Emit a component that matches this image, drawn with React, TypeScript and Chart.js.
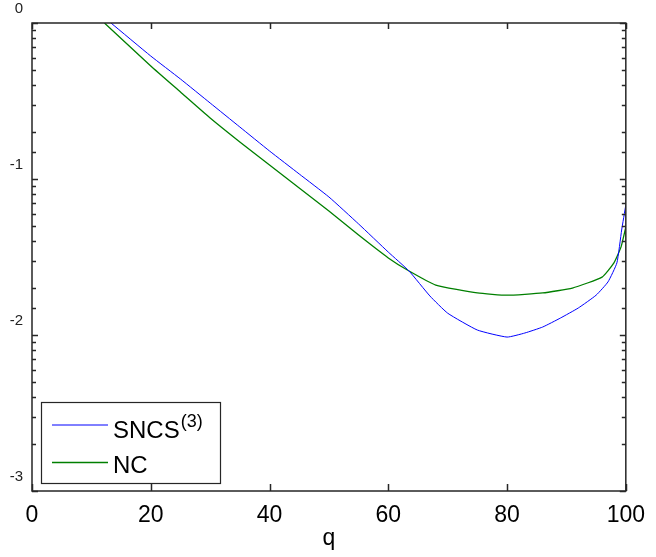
import React, { useEffect, useRef } from 'react';
import { Chart, registerables } from 'chart.js';

Chart.register(...registerables);

const sncsQ = [13.3, 20, 25, 30, 35, 40, 45, 50, 55, 60, 63.5, 67, 70, 75, 80, 83, 86, 89, 92, 95, 97, 98.5, 99.3, 100];
const sncsVal = [1.0, 0.614, 0.4375, 0.307, 0.2154, 0.1512, 0.1077, 0.0767, 0.0515, 0.034, 0.0257, 0.0178, 0.0138, 0.01076, 0.0097, 0.0103, 0.01125, 0.01285, 0.0149, 0.018, 0.0219, 0.029, 0.0471, 0.0681];
const ncQ = [12.2, 20, 25, 30, 35, 40, 45, 50, 55, 60, 63.5, 68, 75, 80, 86, 91, 96, 98, 99.2, 100];
const ncVal = [1.0, 0.53, 0.361, 0.246, 0.1727, 0.1229, 0.0876, 0.0623, 0.0437, 0.0312, 0.0257, 0.0209, 0.0186, 0.018, 0.0186, 0.02, 0.0235, 0.029, 0.0367, 0.0492];
const seriesNames = ['SNCS', 'NC'];
const seriesSup = ['(3)', ''];
const seriesColors = ['#0000ff', '#007f00'];
const xLabel = 'q';

const FONT = "'Liberation Sans', Arial, Helvetica, sans-serif";

const isDecade = (v: number) => {
  const l = Math.log10(v);
  return Math.abs(l - Math.round(l)) < 1e-6;
};

const framePlugin = {
  id: 'frameTicksLegend',
  afterDatasetsDraw(chart: any) {
    const { ctx, chartArea } = chart;
    const { left, right, top, bottom } = chartArea;
    const xs = chart.scales.x;
    const ys = chart.scales.y;
    ctx.save();
    ctx.strokeStyle = '#262626';
    ctx.lineWidth = 1.5;
    ctx.strokeRect(left, top, right - left, bottom - top);
    ctx.beginPath();
    xs.ticks.forEach((t: any) => {
      const px = Math.round(xs.getPixelForValue(t.value)) + 0.5;
      ctx.moveTo(px, bottom);
      ctx.lineTo(px, bottom - 7);
      ctx.moveTo(px, top);
      ctx.lineTo(px, top + 6);
    });
    ys.ticks.forEach((t: any) => {
      const py = Math.round(ys.getPixelForValue(t.value)) + 0.5;
      const len = isDecade(t.value) ? 6 : 4;
      ctx.moveTo(left, py);
      ctx.lineTo(left + len, py);
      ctx.moveTo(right, py);
      ctx.lineTo(right - len, py);
    });
    ctx.stroke();

    const lx = 41, ly = 402, lw = 179, lh = 81;
    ctx.fillStyle = '#ffffff';
    ctx.fillRect(lx, ly, lw, lh);
    ctx.strokeStyle = '#262626';
    ctx.lineWidth = 1.2;
    ctx.strokeRect(lx + 0.5, ly + 0.5, lw, lh);
    const rows = [425, 462.5];
    const widths = [1, 1.3];
    const baselines = [438, 473];
    seriesNames.forEach((name, i) => {
      ctx.strokeStyle = seriesColors[i];
      ctx.lineWidth = widths[i];
      ctx.beginPath();
      ctx.moveTo(52, rows[i]);
      ctx.lineTo(108, rows[i]);
      ctx.stroke();
      ctx.fillStyle = '#000';
      ctx.textBaseline = 'alphabetic';
      ctx.textAlign = 'left';
      ctx.font = `24px ${FONT}`;
      ctx.fillText(name, 113, baselines[i]);
      if (seriesSup[i]) {
        const w = ctx.measureText(name).width;
        ctx.font = `18px ${FONT}`;
        ctx.fillText(seriesSup[i], 113 + w + 1, baselines[i] - 11);
      }
    });
    ctx.restore();
  },
};

export default function App() {
  const ref = useRef<HTMLCanvasElement | null>(null);
  useEffect(() => {
    document.body.style.margin = '0';
    if (!ref.current) return;
    const chart = new Chart(ref.current, {
      type: 'line',
      data: {
        datasets: [
          {
            label: seriesNames[0],
            data: sncsQ.map((q, i) => ({ x: q, y: sncsVal[i] })),
            borderColor: seriesColors[0],
            borderWidth: 1,
            pointRadius: 0,
            tension: 0.15,
            fill: false,
          },
          {
            label: seriesNames[1],
            data: ncQ.map((q, i) => ({ x: q, y: ncVal[i] })),
            borderColor: seriesColors[1],
            borderWidth: 1.3,
            pointRadius: 0,
            tension: 0.15,
            fill: false,
          },
        ],
      },
      options: {
        responsive: false,
        animation: false,
        layout: { padding: { top: 23, right: 24, left: 0, bottom: 0 } },
        plugins: {
          legend: { display: false },
          tooltip: { enabled: false },
        },
        scales: {
          x: {
            type: 'linear',
            min: 0,
            max: 100,
            grid: { display: false, drawTicks: false },
            border: { display: false },
            ticks: {
              stepSize: 20,
              padding: 11,
              color: '#000',
              font: { family: FONT, size: 23 },
              maxRotation: 0,
            },
            title: {
              display: true,
              text: xLabel,
              color: '#000',
              font: { family: FONT, size: 23 },
              padding: { top: 0, bottom: 5 },
            },
            afterFit: (s: any) => { s.height = 66; },
          },
          y: {
            type: 'logarithmic',
            min: 0.001,
            max: 1,
            grid: { display: false, drawTicks: false },
            border: { display: false },
            ticks: {
              autoSkip: false,
              padding: 9,
              labelOffset: -14,
              color: '#222',
              font: { family: FONT, size: 15 },
              callback: (v: any) => {
                const n = Number(v);
                if (!isDecade(n)) return '';
                return String(Math.round(Math.log10(n)));
              },
            },
            afterFit: (s: any) => { s.width = 32; },
          },
        },
      },
      plugins: [framePlugin],
    } as any);
    return () => chart.destroy();
  }, []);
  return (
    <div style={{ width: 656, height: 557 }}>
      <canvas ref={ref} width={656} height={557} style={{ display: 'block' }} />
    </div>
  );
}
